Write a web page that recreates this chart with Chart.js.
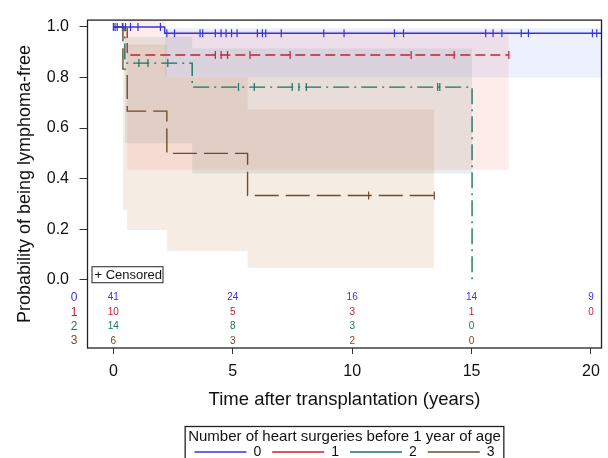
<!DOCTYPE html>
<html>
<head>
<meta charset="utf-8">
<script src="https://cdn.jsdelivr.net/npm/chart.js@4"></script>
<style>
  html, body { margin: 0; padding: 0; background: #fff; }
  #wrap { width: 608px; height: 458px; }
</style>
</head>
<body>
<div id="wrap"><canvas id="km"></canvas></div>
<script>
// groups = number of heart surgeries before 1 year of age
var groups = ['0', '1', '2', '3'];

// Kaplan-Meier steps: time of each drop (years) and survival after it
var kmTime0 = [0, 2.15, 20.5];
var kmSurv0 = [1, 0.975, 0.975];
var kmTime1 = [0, 0.58, 16.56];
var kmSurv1 = [1, 0.889, 0.889];
var kmTime2 = [0, 0.48, 3.3, 15.02];
var kmSurv2 = [1, 0.857, 0.762, 0];
var kmTime3 = [0, 0.40, 0.58, 2.24, 5.62, 13.44];
var kmSurv3 = [1, 0.833, 0.667, 0.5, 0.333, 0.333];

// censored times (years)
var cens0 = [0, 0.07, 0.16, 0.38, 0.51, 0.72, 1.03, 1.97, 2.24, 2.56, 3.63, 3.74, 4.27, 4.51, 4.72,
             4.95, 5.18, 6.03, 6.24, 6.38, 7.03, 8.81, 9.66, 11.77, 12.15, 15.59, 15.9, 16.27,
             17.08, 17.38, 20.06, 20.24];
var cens1 = [0.40, 4.27, 4.51, 4.78, 5.72, 7.40, 12.47, 14.27, 16.56];
var cens2 = [1.07, 1.45, 2.28, 5.24, 5.9, 7.49, 7.77, 8.08, 13.58, 13.67];
var cens3 = [10.69, 13.44];

// confidence bands: start of each step, upper and lower limit
var bandTime0 = [2.15, 20.5];
var bandUp0 = [0.995, 0.995];
var bandLo0 = [0.80, 0.80];
var bandTime1 = [0.58, 2.2, 16.56];
var bandUp1 = [1.03, 0.985, 0.985];
var bandLo1 = [0.435, 0.435, 0.435];
var bandTime2 = [0.48, 3.3, 15.02];
var bandUp2 = [0.96, 0.915, 0.915];
var bandLo2 = [0.54, 0.42, 0.42];
var bandTime3 = [0.40, 0.58, 2.24, 5.62, 13.44];
var bandUp3 = [0.98, 0.93, 0.80, 0.673, 0.673];
var bandLo3 = [0.275, 0.197, 0.114, 0.047, 0.047];

// numbers at risk
var riskTimes = [0, 5, 10, 15, 20];
var atRisk0 = [41, 24, 16, 14, 9];
var atRisk1 = [10, 5, 3, 1, 0];
var atRisk2 = [14, 8, 3, 0, null];
var atRisk3 = [6, 3, 2, 0, null];

var xTicks = [0, 5, 10, 15, 20];
var yTicks = [0, 0.2, 0.4, 0.6, 0.8, 1.0];

var legendTitle = 'Number of heart surgeries before 1 year of age';

// styles
var FONT = '"Liberation Sans", Arial, Helvetica, sans-serif';
var colors = ['rgb(52,52,222)', 'rgb(200,32,52)', 'rgb(24,118,98)', 'rgb(112,74,44)'];
var dashes = [[], [10, 5], [16, 5, 2, 5], [24, 7]];
var bandFill = ['rgba(90,115,235,0.11)', 'rgba(245,95,80,0.12)', 'rgba(40,100,90,0.11)', 'rgba(185,130,70,0.15)'];

var kmTimes = [kmTime0, kmTime1, kmTime2, kmTime3];
var kmSurvs = [kmSurv0, kmSurv1, kmSurv2, kmSurv3];
var censored = [cens0, cens1, cens2, cens3];
var bandTimes = [bandTime0, bandTime1, bandTime2, bandTime3];
var bandUps = [bandUp0, bandUp1, bandUp2, bandUp3];
var bandLos = [bandLo0, bandLo1, bandLo2, bandLo3];
var atRisk = [atRisk0, atRisk1, atRisk2, atRisk3];

function pts(xs, ys) {
  return xs.map(function (x, i) { return {x: x, y: ys[i]}; });
}
function survAt(times, surv, t) {
  var s = surv[0];
  for (var i = 0; i < times.length; i++) if (times[i] <= t) s = surv[i];
  return s;
}

var datasets = [];
groups.forEach(function (g, i) {
  datasets.push({
    label: g, data: pts(kmTimes[i], kmSurvs[i]), stepped: true,
    borderColor: colors[i], borderWidth: 1.4, borderDash: dashes[i],
    pointRadius: 0, fill: false
  });
});
groups.forEach(function (g, i) {
  datasets.push({
    label: 'censored ' + g,
    data: censored[i].map(function (t) { return {x: t, y: survAt(kmTimes[i], kmSurvs[i], t)}; }),
    showLine: false, pointStyle: 'line', pointRotation: 90, pointRadius: 4,
    pointBorderColor: colors[i], pointBorderWidth: 1.2, borderColor: colors[i]
  });
});
groups.forEach(function (g, i) {
  datasets.push({
    label: 'upper ' + g, data: pts(bandTimes[i], bandUps[i]), stepped: true,
    borderColor: 'rgba(0,0,0,0)', borderWidth: 1, pointRadius: 0, fill: false
  });
  datasets.push({
    label: 'lower ' + g, data: pts(bandTimes[i], bandLos[i]), stepped: true,
    borderColor: 'rgba(0,0,0,0)', borderWidth: 1, pointRadius: 0,
    fill: '-1', backgroundColor: bandFill[i]
  });
});

// box round the plot area, at-risk table, "+ Censored" key, frame round the legend
var extras = {
  id: 'extras',
  afterDraw: function (chart) {
    var ctx = chart.ctx, a = chart.chartArea;
    var xs = chart.scales.x, ys = chart.scales.y;
    ctx.save();
    ctx.strokeStyle = '#222';
    ctx.lineWidth = 1.3;
    ctx.strokeRect(a.left, a.top, a.right - a.left, a.bottom - a.top);

    var rowOff = [50.3, 35.7, 21.3, 7];
    ctx.textAlign = 'center';
    ctx.textBaseline = 'middle';
    atRisk.forEach(function (row, r) {
      var y = a.bottom - rowOff[r];
      ctx.fillStyle = colors[r];
      ctx.font = '12px ' + FONT;
      ctx.fillText(groups[r], a.left - 13.5, y);
      ctx.font = '10px ' + FONT;
      row.forEach(function (n, c) {
        if (n === null) return;
        ctx.fillText(String(n), xs.getPixelForValue(riskTimes[c]), y);
      });
    });

    var y0 = ys.getPixelForValue(0);
    ctx.lineWidth = 1;
    ctx.strokeStyle = '#222';
    ctx.strokeRect(a.left + 4.5, y0 - 13, 71, 16);
    ctx.fillStyle = '#111';
    ctx.font = '13px ' + FONT;
    ctx.textAlign = 'left';
    ctx.fillText('+ Censored', a.left + 7, y0 - 4.5);

    var lg = chart.legend;
    ctx.font = '15px ' + FONT;
    var w = ctx.measureText(legendTitle).width + 6;
    var cx = (lg.left + lg.right) / 2;
    ctx.lineWidth = 1.3;
    ctx.strokeRect(cx - w / 2, lg.top + 0.5, w, lg.height + 20);
    ctx.restore();
  }
};

Chart.defaults.font.family = FONT;
Chart.defaults.color = '#111';

new Chart(document.getElementById('km'), {
  type: 'line',
  data: {datasets: datasets},
  options: {
    responsive: true,
    maintainAspectRatio: false,
    animation: false,
    events: [],
    layout: {padding: {top: 11, right: 4, bottom: -11, left: 0}},
    scales: {
      x: {
        type: 'linear', min: -1.083, max: 20.44,
        afterBuildTicks: function (s) { s.ticks = xTicks.map(function (v) { return {value: v}; }); },
        afterFit: function (s) { s.height = 78; },
        ticks: {font: {size: 16}, color: '#111', padding: 8, autoSkip: false,
                callback: function (v) { return String(v); }},
        grid: {drawOnChartArea: false, drawTicks: true, tickLength: 6, tickColor: '#333'},
        border: {display: false},
        title: {display: true, text: 'Time after transplantation (years)', font: {size: 18.5},
                color: '#111', padding: {top: 0, bottom: 15.2}}
      },
      y: {
        min: -0.27, max: 1.027,
        afterBuildTicks: function (s) { s.ticks = yTicks.map(function (v) { return {value: v}; }); },
        afterFit: function (s) { s.width = 87.5; },
        ticks: {font: {size: 16}, color: '#111', padding: 10.5,
                callback: function (v) { return v.toFixed(1); }},
        grid: {drawOnChartArea: false, drawTicks: true, tickLength: 8, tickColor: '#333'},
        border: {display: false},
        title: {display: true, text: 'Probability of being lymphoma-free', font: {size: 18},
                color: '#111', padding: {top: 14.7, bottom: 0}}
      }
    },
    plugins: {
      filler: {propagate: false, drawTime: 'beforeDatasetsDraw'},
      tooltip: {enabled: false},
      legend: {
        position: 'bottom',
        fullSize: false,
        title: {display: true, text: legendTitle, color: '#111',
                font: {size: 15, lineHeight: 1}, padding: {top: 3.5, bottom: -10.5}},
        labels: {
          filter: function (item) { return item.datasetIndex < 4; },
          usePointStyle: true, pointStyle: 'line', pointStyleWidth: 52,
          font: {size: 14}, color: '#111', padding: 11
        }
      }
    }
  },
  plugins: [extras]
});
</script>
</body>
</html>
